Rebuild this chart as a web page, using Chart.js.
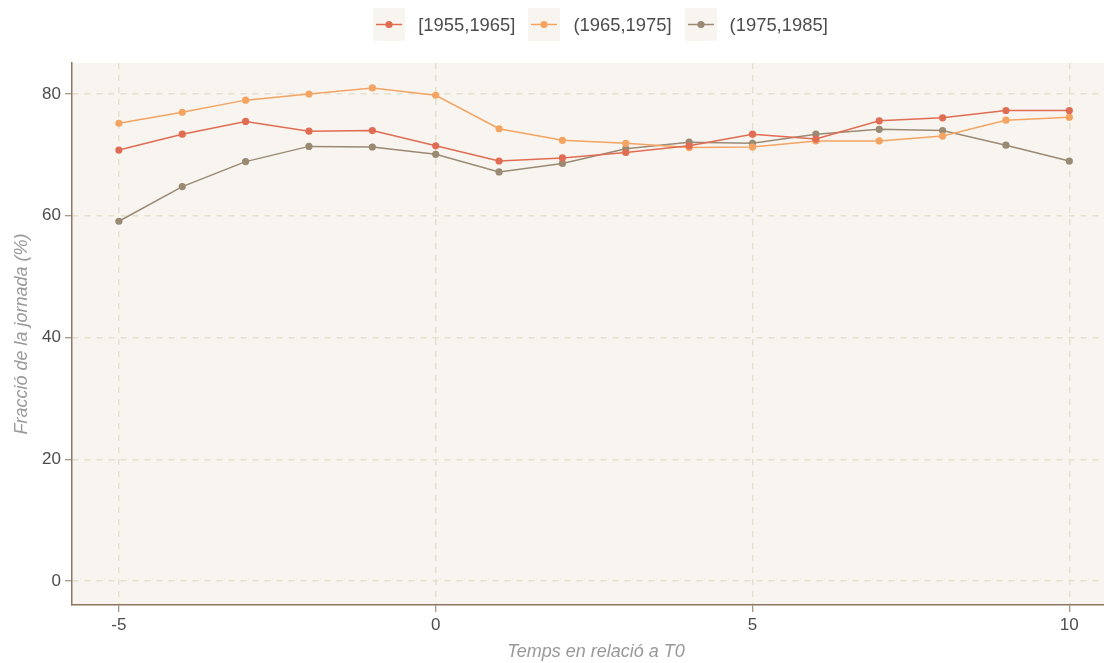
<!DOCTYPE html>
<html>
<head>
<meta charset="utf-8">
<script src="https://cdn.jsdelivr.net/npm/chart.js@4"></script>
<style>
  html, body { margin: 0; padding: 0; background: #ffffff; overflow: hidden; width: 1104px; height: 663px; }
  #wrap { position: relative; width: 1104px; height: 663px; overflow: hidden; }
  canvas { display: block; position: absolute; left: 0; top: 0; }
  #legend { position: absolute; left: 0; top: 8px; width: 1201px; height: 33px;
    display: flex; justify-content: center; align-items: center;
    font-family: "Liberation Sans", Arial, sans-serif; font-size: 18.4px; color: #4d4d4d; }
  .item { display: flex; align-items: center; margin: 0 6.5px; }
  .key { width: 32px; height: 33px; margin-right: 13px; display: block; }
</style>
</head>
<body>
<div id="wrap">
  <canvas id="c" width="1124" height="663"></canvas>
  <div id="legend"></div>
</div>
<script>
const xValues = [-5, -4, -3, -2, -1, 0, 1, 2, 3, 4, 5, 6, 7, 8, 9, 10];
const seriesLabels = ["[1955,1965]", "(1965,1975]", "(1975,1985]"];
const s1955 = [70.8, 73.4, 75.5, 73.9, 74.0, 71.5, 69.0, 69.5, 70.4, 71.5, 73.4, 72.6, 75.6, 76.1, 77.3, 77.3];
const s1965 = [75.2, 77.0, 79.0, 80.0, 81.0, 79.8, 74.3, 72.4, 71.9, 71.2, 71.3, 72.3, 72.3, 73.1, 75.7, 76.2];
const s1975 = [59.1, 64.8, 68.9, 71.4, 71.3, 70.1, 67.2, 68.6, 71.0, 72.1, 71.9, 73.4, 74.2, 74.0, 71.6, 69.0];
const xTicks = [-5, 0, 5, 10];
const yTicks = [0, 20, 40, 60, 80];
const colors = ["#E06C53", "#F4A462", "#9A8A74"];
const seriesValues = [s1955, s1965, s1975];

const panelBg = "#F8F5F0";
const gridColor = "#E6E0CE";
const axisColor = "#8C7862";

// HTML legend
const legendEl = document.getElementById('legend');
seriesLabels.forEach((lab, i) => {
  const item = document.createElement('div');
  item.className = 'item';
  item.innerHTML = '<svg class="key" width="32" height="33"><rect width="32" height="33" fill="' + panelBg + '"/>' +
    '<line x1="3" y1="16.5" x2="29" y2="16.5" stroke="' + colors[i] + '" stroke-width="1.5"/>' +
    '<circle cx="16" cy="16.5" r="3.6" fill="' + colors[i] + '"/></svg><span>' + lab + '</span>';
  legendEl.appendChild(item);
});

const panelPlugin = {
  id: 'panelBg',
  beforeDraw(chart) {
    const {ctx, chartArea: a} = chart;
    ctx.save();
    ctx.fillStyle = panelBg;
    ctx.fillRect(a.left, a.top, a.right - a.left, a.bottom - a.top);
    ctx.restore();
  }
};

const datasets = seriesValues.map((vals, i) => ({
  label: seriesLabels[i],
  data: xValues.map((x, j) => ({x: x, y: vals[j]})),
  borderColor: colors[i],
  backgroundColor: colors[i],
  pointBackgroundColor: colors[i],
  pointBorderColor: colors[i],
  pointRadius: 3.6,
  pointBorderWidth: 0,
  borderWidth: 1.5,
  tension: 0,
  fill: false
}));

const font = "'Liberation Sans', Arial, sans-serif";

new Chart(document.getElementById('c'), {
  type: 'line',
  data: { datasets: datasets },
  plugins: [panelPlugin],
  options: {
    responsive: false,
    animation: false,
    devicePixelRatio: 1,
    layout: { padding: { top: 63, left: 0, right: 0, bottom: 0 } },
    plugins: { legend: { display: false }, tooltip: { enabled: false } },
    scales: {
      x: {
        type: 'linear',
        min: -5.74, max: 10.80,
        afterBuildTicks: s => { s.ticks = xTicks.map(v => ({value: v})); },
        afterFit: s => { s.height = 58; s.paddingLeft = 0; s.paddingRight = 0; },
        grid: { color: gridColor, lineWidth: 1.5, tickLength: 7, tickColor: axisColor, tickWidth: 1, tickBorderDash: [] },
        border: { display: true, color: axisColor, width: 1.5, dash: [6, 6] },
        ticks: { color: '#4d4d4d', font: { family: font, size: 17 }, padding: 3, maxRotation: 0 },
        title: { display: true, text: 'Temps en relació a T0', color: '#999999',
                 font: { family: font, size: 18, style: 'italic' }, padding: { top: 0, bottom: 0 } }
      },
      y: {
        type: 'linear',
        min: -3.94, max: 85.1,
        afterBuildTicks: s => { s.ticks = yTicks.map(v => ({value: v})); },
        afterFit: s => { s.width = 72; s.paddingTop = 0; s.paddingBottom = 0; },
        grid: { color: gridColor, lineWidth: 1.5, tickLength: 7, tickColor: axisColor, tickWidth: 1, tickBorderDash: [] },
        border: { display: true, color: axisColor, width: 1.5, dash: [6, 6] },
        ticks: { color: '#4d4d4d', font: { family: font, size: 17 }, padding: 4 },
        title: { display: true, text: 'Fracció de la jornada (%)', color: '#999999',
                 font: { family: font, size: 18, style: 'italic' }, padding: { top: 11, bottom: 0 } }
      }
    }
  }
});
</script>
</body>
</html>
